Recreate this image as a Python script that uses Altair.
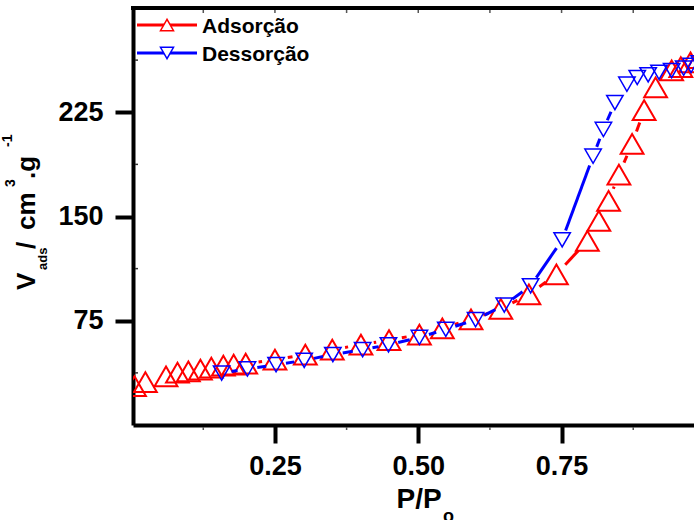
import math
import altair as alt
import pandas as pd

# Nitrogen isotherm: relative pressure P/Po and adsorbed volume (cm3/g)
P_ADS = [0.005, 0.024, 0.060, 0.080, 0.099, 0.120, 0.139, 0.160, 0.178, 0.199,
         0.250, 0.303, 0.350, 0.400, 0.449, 0.502, 0.542, 0.592, 0.644, 0.693,
         0.741, 0.795, 0.815, 0.832, 0.850, 0.873, 0.894, 0.914, 0.942, 0.958,
         0.975, 0.990]
V_ADS = [28.0, 30.8, 35.0, 37.7, 38.6, 39.8, 41.3, 42.7, 43.4, 44.1,
         47.0, 50.6, 54.2, 57.8, 61.1, 65.1, 69.5, 76.0, 83.5, 94.0,
         108.4, 132.5, 146.9, 161.3, 180.2, 202.3, 226.5, 242.9, 255.1, 257.5,
         260.9, 264.0]

P_DES = [0.157, 0.202, 0.252, 0.301, 0.351, 0.403, 0.448, 0.502, 0.548, 0.600,
         0.650, 0.696, 0.751, 0.805, 0.823, 0.843, 0.864, 0.882, 0.901, 0.920,
         0.942, 0.963, 0.976, 0.990]
V_DES = [37.4, 40.3, 43.4, 46.5, 50.7, 54.2, 57.7, 63.0, 68.8, 75.8,
         86.3, 100.1, 133.2, 193.4, 212.6, 232.0, 245.2, 250.0, 251.9, 253.7,
         255.0, 256.7, 258.7, 260.5]

SERIES = ["Adsorção", "Dessorção"]
X_TICKS = [0.25, 0.50, 0.75]
Y_TICKS = [75, 150, 225]
X_MINOR = [0.125, 0.375, 0.625, 0.875]
X_ALL = [0.125, 0.25, 0.375, 0.5, 0.625, 0.75, 0.875]
Y_MINOR = [37.5, 112.5, 187.5, 262.5]

W, H = 561, 417
X_DOM = [0.0024, 0.981]
Y_DOM = [0, 300]
FONT = "Liberation Sans"
RED = "#ff0000"
BLUE = "#0000ff"

xs = alt.Scale(domain=X_DOM, nice=False, zero=False)
ys = alt.Scale(domain=Y_DOM, nice=False, zero=False)

x_axis = alt.Axis(values=X_TICKS, format=".2f", title=None, grid=False,
                  domainWidth=4, domainColor="black", tickWidth=4, tickSize=18,
                  tickColor="black", labelFont=FONT, labelFontWeight="bold",
                  labelFontSize=27, labelColor="black", labelPadding=10,
                  labelFlush=False)
y_axis = alt.Axis(values=Y_TICKS, format="d", title=None, grid=False,
                  domainWidth=4, domainColor="black", tickWidth=4, tickSize=18,
                  tickColor="black", labelFont=FONT, labelFontWeight="bold",
                  labelFontSize=27, labelColor="black", labelPadding=12,
                  labelFlush=False)


def X(field):
    return alt.X(field, scale=xs, axis=x_axis)


def Y(field):
    return alt.Y(field, scale=ys, axis=y_axis)


def gapped_segments(px, vy, gap):
    """Connecting segments between neighbouring points, trimmed around markers."""
    sx = W / (X_DOM[1] - X_DOM[0])
    sy = H / (Y_DOM[1] - Y_DOM[0])
    rows = []
    for i in range(len(px) - 1):
        dx, dy = px[i + 1] - px[i], vy[i + 1] - vy[i]
        d = math.hypot(dx * sx, dy * sy)
        if d <= 2 * gap + 2:
            continue
        t0, t1 = gap / d, 1 - gap / d
        rows.append({"p": px[i] + t0 * dx, "v": vy[i] + t0 * dy,
                     "p2": px[i] + t1 * dx, "v2": vy[i] + t1 * dy})
    return pd.DataFrame(rows)


def seg_layer(df, color):
    return alt.Chart(df).mark_rule(color=color, strokeWidth=3, clip=True).encode(
        x=X("p:Q"), y=Y("v:Q"), x2="p2:Q", y2="v2:Q")


ads = pd.DataFrame({"p": P_ADS, "v": V_ADS})
des = pd.DataFrame({"p": P_DES, "v": V_DES})

ads_pts = alt.Chart(ads).mark_point(shape="triangle-up", filled=False, size=520,
                                    strokeWidth=2, color=RED, opacity=1,
                                    clip=True).encode(x=X("p:Q"), y=Y("v:Q"))

des_pts = alt.Chart(des).mark_point(shape="triangle-down", filled=False, size=270,
                                    strokeWidth=1.5, color=BLUE, opacity=1,
                                    clip=True).encode(x=X("p:Q"), y=Y("v:Q"))

one = alt.Data(values=[{}])

# frame: top border and small minor ticks
top_line = alt.Chart(one).mark_rule(color="black", strokeWidth=4).encode(
    x=alt.value(-2), x2=alt.value(W), y=alt.value(0))
top_ticks = alt.Chart(pd.DataFrame({"p": X_ALL})).mark_rule(
    color="#555", strokeWidth=1.5).encode(
    x=X("p:Q"), y=alt.value(2), y2=alt.value(5))
bottom_ticks = alt.Chart(pd.DataFrame({"p": X_MINOR})).mark_rule(
    color="#555", strokeWidth=1.5).encode(
    x=X("p:Q"), y=alt.value(H + 2), y2=alt.value(H + 5))
left_ticks = alt.Chart(pd.DataFrame({"v": Y_MINOR})).mark_rule(
    color="#333", strokeWidth=1.5).encode(
    y=Y("v:Q"), x=alt.value(2), x2=alt.value(5))


def text(s, x, y, size, angle=0):
    props = dict(text=s, font=FONT, fontWeight="bold", fontSize=size,
                 color="black", align="left", baseline="alphabetic")
    if angle:
        props["angle"] = angle
    return alt.Chart(one).mark_text(**props).encode(x=alt.value(x), y=alt.value(y))


# legend
legend = []
for name, color, shape, ly, ty in [(SERIES[0], RED, "triangle-up", 17, 25),
                                   (SERIES[1], BLUE, "triangle-down", 45, 53)]:
    legend.append(alt.Chart(one).mark_rule(color=color, strokeWidth=3).encode(
        x=alt.value(4), x2=alt.value(64), y=alt.value(ly)))
    legend.append(alt.Chart(one).mark_point(shape=shape, filled=True, fill="white",
                                            stroke=color, strokeWidth=1.5,
                                            size=170, opacity=1).encode(
        x=alt.value(34), y=alt.value(ly)))
    legend.append(text(name, 69, ty, 21))

# axis titles with sub/superscripts
titles = [
    text("V", -98, 282, 26, 270),
    text("ads", -86.5, 262, 13, 270),
    text("/", -98, 241, 26, 270),
    text("cm", -98, 222, 26, 270),
    text("3", -118, 179, 14, 270),
    text(".g", -98, 171, 26, 270),
    text("-1", -121.5, 139, 14, 270),
    text("P/P", 263.5, 499.5, 28),
    text("o", 310, 514, 18),
]

chart = alt.layer(
    ads_pts,
    seg_layer(gapped_segments(P_ADS, V_ADS, 13), RED),
    seg_layer(gapped_segments(P_DES, V_DES, 10), BLUE),
    des_pts,
    top_line, top_ticks, bottom_ticks, left_ticks,
    *legend,
    *titles,
).properties(
    width=W, height=H,
    autosize=alt.AutoSizeParams(type="none"),
    padding={"left": 133, "top": 8, "right": 0, "bottom": 95},
    background="white",
).configure_view(stroke=None)

chart.save("out.html", embed_options={"renderer": "svg", "actions": False})
